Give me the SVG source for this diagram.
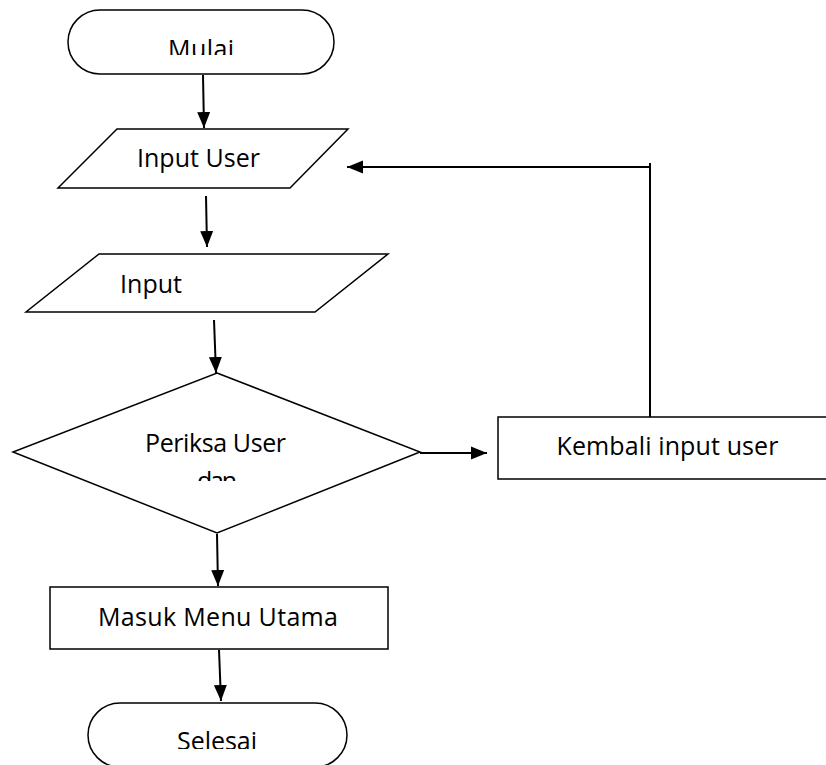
<svg xmlns="http://www.w3.org/2000/svg" width="826" height="765" viewBox="0 0 826 765">
<style>
.s{fill:#fff;stroke:#000;stroke-width:1.5}
.t{font-family:"Open Sans","Liberation Sans",sans-serif;font-size:25px;fill:#000;text-anchor:middle}
.c{fill:none;stroke:#000;stroke-width:2}
</style>
<defs>
<marker id="a" markerUnits="userSpaceOnUse" markerWidth="16" markerHeight="16" viewBox="0 0 16 16" refX="16" refY="8" orient="auto">
<path d="M0,1.5 L16,8 L0,14.5 Z" fill="#000"/>
</marker>
<clipPath id="cm"><rect x="0" y="0" width="826" height="55"/></clipPath>
<clipPath id="cd"><rect x="0" y="0" width="826" height="481"/></clipPath>
<clipPath id="cs"><rect x="0" y="0" width="826" height="749"/></clipPath>
</defs>
<g id="connectors">
<line class="c" x1="203" y1="75" x2="204" y2="128" marker-end="url(#a)"/>
<line class="c" x1="206" y1="196" x2="207" y2="247" marker-end="url(#a)"/>
<line class="c" x1="214" y1="320" x2="216" y2="373" marker-end="url(#a)"/>
<line class="c" x1="420" y1="453" x2="487" y2="453" marker-end="url(#a)"/>
<polyline class="c" points="650,417 650,163"/>
<line class="c" x1="650" y1="167" x2="347" y2="167" marker-end="url(#a)"/>
<line class="c" x1="217" y1="534" x2="218" y2="586" marker-end="url(#a)"/>
<line class="c" x1="219" y1="650" x2="221" y2="701" marker-end="url(#a)"/>
</g>
<g id="mulai">
<rect class="s" x="68" y="10" width="266" height="64" rx="32" ry="32"/>
<text class="t" x="201" y="58" textLength="66" clip-path="url(#cm)">Mulai</text>
</g>
<g id="input-user">
<polygon class="s" points="117,129 348,129 290,188 58,188"/>
<text class="t" x="198.5" y="167" textLength="123">Input User</text>
</g>
<g id="input">
<polygon class="s" points="99,254 388,254 315,312 26,312"/>
<text class="t" x="151" y="293" textLength="62">Input</text>
</g>
<g id="periksa">
<polygon class="s" points="217,373 420,452 217,533 13,452"/>
<text class="t" x="215.5" y="452" textLength="141">Periksa User</text>
<text class="t" x="217" y="490" textLength="40" clip-path="url(#cd)">dan</text>
</g>
<g id="kembali">
<rect class="s" x="498" y="417" width="340" height="62"/>
<text class="t" x="667.5" y="455" textLength="222">Kembali input user</text>
</g>
<g id="masuk">
<rect class="s" x="50" y="587" width="338" height="62"/>
<text class="t" x="218" y="626" textLength="240">Masuk Menu Utama</text>
</g>
<g id="selesai">
<rect class="s" x="88" y="703" width="259" height="64" rx="32" ry="32"/>
<text class="t" x="217" y="750" textLength="80" clip-path="url(#cs)">Selesai</text>
</g>
</svg>
